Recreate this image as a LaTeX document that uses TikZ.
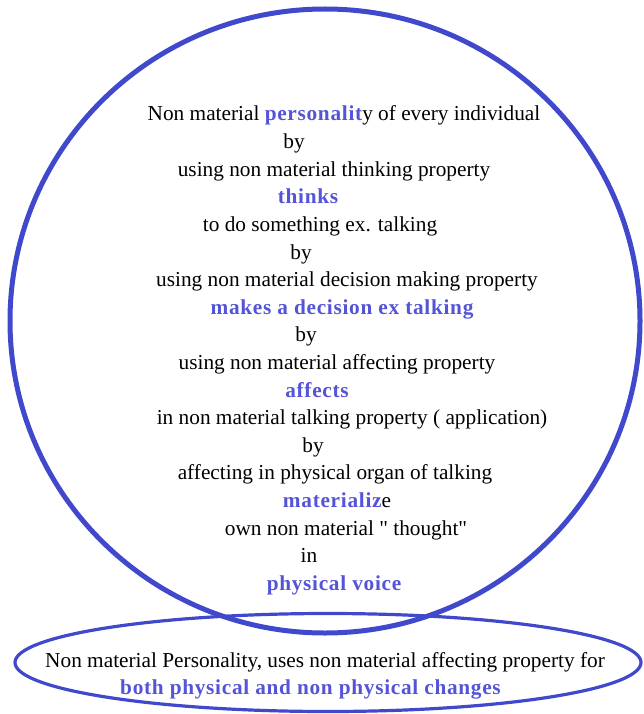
\documentclass[tikz,border=0pt]{standalone}
\usepackage{fontspec}
\newfontfamily\docfont{Liberation Serif}[BoldFeatures={LetterSpace=3.3}]
\usepackage{tikz}
\usetikzlibrary{positioning}
\usepackage{xcolor}
\definecolor{ringblue}{RGB}{64,72,204}
\definecolor{wordblue}{RGB}{84,84,216}
\newcommand{\hl}[1]{\textcolor{wordblue}{\bfseries #1}}

\begin{document}
\begin{tikzpicture}[
    x=1pt, y=-1pt,
    every node/.style={font=\docfont\fontsize{21.3}{25}\selectfont, inner sep=0pt, anchor=base},
    ring/.style={draw=ringblue, line width=#1}
  ]
  \useasboundingbox (0,0) rectangle (644,714);

  %% ---- big circle ----
  \draw[ring=5pt] (325,321) ellipse [x radius=315pt, y radius=312pt];

  %% ---- lines inside the circle ----
  \node (personality) at (344,121.0) {Non material \hl{personalit}y of every individual};
  \node (by_a)        at (294,148.6) {by};
  \node (think_prop)  at (334,176.2) {using non material thinking property};
  \node (thinks)      at (308,203.8) {\hl{thinks}};
  \node (todo)        at (320,231.4) {to do something ex. talking};
  \node (by_b)        at (301,259.0) {by};
  \node (dec_prop)    at (347,286.6) {using non material decision making property};
  \node (decides)     at (342,314.2) {\hl{makes a decision ex talking}};
  \node (by_c)        at (306,341.8) {by};
  \node (aff_prop)    at (337,369.4) {using non material affecting property};
  \node (affects)     at (317,397.0) {\hl{affects}};
  \node (talk_prop)   at (352,424.6) {in non material talking property ( application)};
  \node (by_d)        at (313,452.2) {by};
  \node (organ)       at (335,479.8) {affecting in physical organ of talking};
  \node (materialize) at (337,507.4) {\hl{materializ}e};
  \node (thought)     at (346,535.0) {own non material " thought"};
  \node (in)          at (309,562.6) {in};
  \node (voice)       at (334,590.2) {\hl{physical voice}};

  %% ---- bottom ellipse ----
  \draw[ring=3.2pt] (328,662.5) ellipse [x radius=313pt, y radius=49pt];

  \node (summary) at (325,667) {Non material Personality, uses non material affecting property for};
  \node (changes) at (310.5,694) {\hl{both physical and non physical changes}};

\end{tikzpicture}
\end{document}
